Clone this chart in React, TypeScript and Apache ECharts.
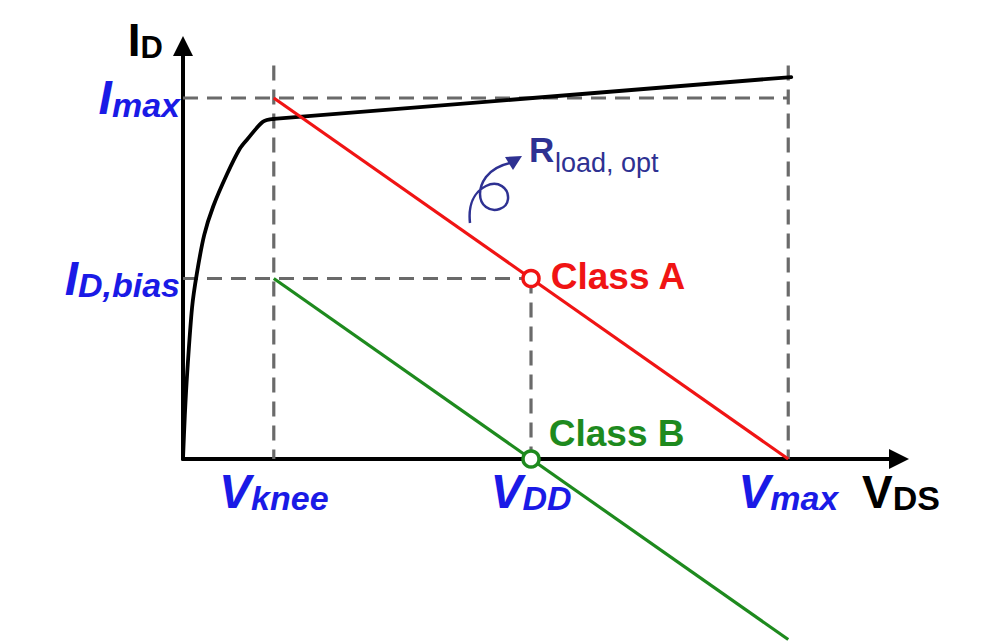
import React, { useEffect, useRef } from "react";
import * as echarts from "echarts";

// ---- data (normalised units: V in "V_max = 10", I in "I_max = 1") ----
const vKnee = 1.5;
const vDD = 5.75;
const vMax = 10;
const iMax = 1;
const iBias = 0.5;

// device I-V characteristic (black curve): triode region then saturation region
const triodeVds = [0, 0.03, 0.07, 0.15, 0.23, 0.35, 0.5, 0.73, 0.94, 1.06, 1.32, 1.5];
const triodeId = [0, 0.12, 0.24, 0.42, 0.515, 0.62, 0.7, 0.79, 0.86, 0.885, 0.934, 0.942];
const satVds = [1.5, 10.05];
const satId = [0.942, 1.058];

// load lines
const classAVds = [vKnee, vMax];
const classAId = [iMax, 0];
const classBVds = [vKnee, vMax];
const classBId = [iBias, -iBias];

// guide lines top
const guideTop = 1.09;

// tick labels
const xTickValues = [vKnee, vDD, vMax];
const xTickSubs = ["knee", "DD", "max"];
const yTickValues = [iBias, iMax];
const yTickSubs = ["D,bias", "max"];

// operating points
const opPointNames = ["Class A", "Class B"];
const opPointVds = [vDD, vDD];
const opPointId = [iBias, 0];

const F = "'Liberation Sans', Arial, Helvetica, sans-serif";
const BLUE = "#1a1ae6";
const RED = "#f01414";
const GREEN = "#1e8a1e";
const GRAY = "#6a6a6a";
const NAVY = "#2e3192";

const arrowPath =
  "M470,223 C468,205 474,192 486,186 C498,180 509,188 508,199 C507,209 494,213 486,207 C478,201 478,188 486,177 C493,168 501,165 510,163";

export default function App() {
  const ref = useRef<HTMLDivElement>(null);

  useEffect(() => {
    if (!ref.current) return;
    try {
      echarts.graphic.registerShape("curvedArrow", echarts.graphic.extendPath(arrowPath, {}));
    } catch (e) {}
    const chart = echarts.init(ref.current, undefined, { renderer: "svg" });

    const labelRich = {
      m: {
        fontSize: 48,
        fontWeight: "bold",
        fontStyle: "italic",
        fontFamily: F,
        color: BLUE,
        lineHeight: 48,
        verticalAlign: "bottom",
      },
      s: {
        fontSize: 34,
        fontWeight: "bold",
        fontStyle: "italic",
        fontFamily: F,
        color: BLUE,
        lineHeight: 26,
        verticalAlign: "bottom",
      },
    };

    const nameRich = (big: number, small: number, smallLh: number) => ({
      m: { fontSize: big, fontWeight: "bold", fontFamily: F, color: "#000", lineHeight: big, verticalAlign: "bottom" },
      s: { fontSize: small, fontWeight: "bold", fontFamily: F, color: "#000", lineHeight: smallLh, verticalAlign: "bottom" },
    });

    const zip = (xs: number[], ys: number[]) => xs.map((x, i) => [x, ys[i]]);

    const guides = [
      [[0, iMax], [vMax, iMax]],
      [[0, iBias], [vDD, iBias]],
      [[vKnee, guideTop], [vKnee, 0]],
      [[vMax, guideTop], [vMax, 0]],
      [[vDD, iBias], [vDD, 0]],
    ];

    const series: any[] = guides.map((seg) => ({
      type: "line",
      data: seg,
      symbol: "none",
      z: 1,
      lineStyle: { color: GRAY, width: 3.2, type: [15, 9] },
      silent: true,
    }));

    series.push(
      {
        type: "line",
        data: zip(triodeVds, triodeId),
        symbol: "none",
        smooth: 0.3,
        z: 3,
        lineStyle: { color: "#000", width: 3.8, cap: "round", join: "round" },
      },
      {
        type: "line",
        data: zip(satVds, satId),
        symbol: "none",
        z: 3,
        lineStyle: { color: "#000", width: 3.8, cap: "round" },
      },
      {
        type: "line",
        data: zip(classAVds, classAId),
        symbol: "none",
        z: 3,
        lineStyle: { color: RED, width: 3.2 },
      },
      {
        type: "line",
        data: zip(classBVds, classBId),
        symbol: "none",
        clip: false,
        z: 3,
        lineStyle: { color: GREEN, width: 3.2 },
      },
      {
        type: "scatter",
        z: 5,
        symbol: "circle",
        symbolSize: 16,
        itemStyle: { opacity: 1 },
        data: opPointNames.map((n, i) => ({
          name: n,
          value: [opPointVds[i], opPointId[i]],
          itemStyle: { color: "#fff", borderColor: i === 0 ? RED : GREEN, borderWidth: 3.5, opacity: 1 },
          label: {
            show: true,
            formatter: n,
            position: "right",
            distance: 10,
            offset: i === 0 ? [0, -2] : [-2, -26],
            fontSize: 37,
            fontWeight: "bold",
            fontFamily: F,
            color: i === 0 ? RED : GREEN,
            opacity: 1,
          },
        })),
      }
    );

    chart.setOption({
      animation: false,
      backgroundColor: "#fff",
      grid: { left: 183, right: 105, top: 46, bottom: 185, containLabel: false },
      xAxis: {
        type: "value",
        min: 0,
        max: 11.83,
        axisLine: {
          show: true,
          onZero: false,
          lineStyle: { color: "#000", width: 4 },
          symbol: ["none", "triangle"],
          symbolSize: [20, 20],
        },
        axisTick: { show: false },
        splitLine: { show: false },
        axisLabel: {
          customValues: xTickValues,
          margin: 8,
          formatter: (v: number) => {
            const i = xTickValues.findIndex((t) => Math.abs(t - v) < 1e-6);
            return i < 0 ? "" : `{m|V}{s|${xTickSubs[i]}}`;
          },
          rich: labelRich,
        },
        name: "{m|V}{s|DS}",
        nameLocation: "end",
        nameGap: -37,
        nameTextStyle: {
          align: "left",
          verticalAlign: "top",
          padding: [10, 0, 0, 0],
          rich: nameRich(46, 34, 26),
        },
      },
      yAxis: {
        type: "value",
        min: 0,
        max: 1.144,
        axisLine: {
          show: true,
          onZero: false,
          lineStyle: { color: "#000", width: 4 },
          symbol: ["none", "triangle"],
          symbolSize: [20, 20],
        },
        axisTick: { show: false },
        splitLine: { show: false },
        axisLabel: {
          customValues: yTickValues,
          margin: 3,
          formatter: (v: number) => {
            const i = yTickValues.findIndex((t) => Math.abs(t - v) < 1e-6);
            return i < 0 ? "" : `{m|I}{s|${yTickSubs[i]}}`;
          },
          rich: labelRich,
        },
        name: "{m|I}{s|D}",
        nameLocation: "end",
        nameGap: -17,
        nameTextStyle: {
          align: "right",
          verticalAlign: "bottom",
          padding: [0, 20, 0, 0],
          rich: nameRich(46, 31, 22),
        },
      },
      graphic: [
        {
          type: "curvedArrow",
          silent: true,
          shape: {},
          style: { stroke: NAVY, fill: "none", lineWidth: 2.5 },
          z: 10,
        },
        {
          type: "polygon",
          silent: true,
          shape: { points: [[522, 156], [505, 157], [513, 170]] },
          style: { fill: NAVY },
          z: 10,
        },
        {
          type: "text",
          silent: true,
          x: 529,
          y: 167,
          style: {
            text: "R",
            fontSize: 35,
            fontWeight: "bold",
            fontFamily: F,
            fill: NAVY,
            verticalAlign: "bottom",
          },
          z: 10,
        },
        {
          type: "text",
          silent: true,
          x: 555,
          y: 176,
          style: {
            text: "load, opt",
            fontSize: 27,
            fontFamily: F,
            fill: NAVY,
            verticalAlign: "bottom",
          },
          z: 10,
        },
      ],
      series,
    });

    return () => chart.dispose();
  }, []);

  return (
    <div
      ref={ref}
      style={{ position: "fixed", left: 0, top: 0, width: 1004, height: 644, background: "#fff" }}
    />
  );
}
